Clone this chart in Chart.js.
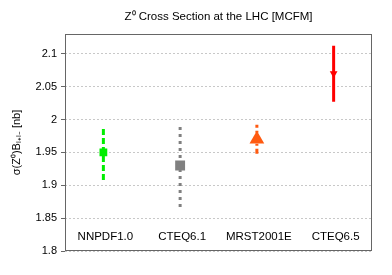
<!DOCTYPE html>
<html>
<head>
<meta charset="utf-8">
<script src="https://cdn.jsdelivr.net/npm/chart.js@4"></script>
<style>
    html, body { margin: 0; padding: 0; background: #fff; }
    #wrap { width: 392px; height: 275px; }
</style>
</head>
<body>
<div id="wrap"><canvas id="zChart"></canvas></div>
<script>
// values
const categories = ['NNPDF1.0', 'CTEQ6.1', 'MRST2001E', 'CTEQ6.5'];
const central = [1.95, 1.93, 1.97, 2.07];
const errLow = [1.908, 1.867, 1.948, 2.027];
const errHigh = [1.99, 1.99, 1.992, 2.112];
const yTicks = [1.8, 1.85, 1.9, 1.95, 2, 2.05, 2.1];

const colors = ['#00ee00', '#808080', '#ff5a10', '#ff0000'];
const dashes = [[6, 3], [3, 4], [5, 3, 2, 3], []];
const FONT = 'Liberation Sans, Arial, sans-serif';

// one two-point line per error bar
const errorSets = categories.map(function (c, i) {
    return {
        type: 'line',
        data: [{x: c, y: errLow[i]}, {x: c, y: errHigh[i]}],
        borderColor: colors[i],
        borderWidth: 3,
        borderDash: dashes[i],
        borderCapStyle: 'butt',
        pointRadius: 0,
        fill: false
    };
});

const markerSet = {
    type: 'line',
    showLine: false,
    data: categories.map(function (c, i) { return {x: c, y: central[i]}; }),
    pointStyle: ['rect', 'rect', 'triangle', 'triangle'],
    pointRadius: [5.5, 7, 8.5, 4.5],
    pointRotation: [0, 0, 0, 180],
    pointBackgroundColor: colors,
    pointBorderColor: colors,
    pointBorderWidth: 0
};

const decorations = {
    id: 'decorations',
    afterDraw(chart) {
        const ctx = chart.ctx;
        const area = chart.chartArea;
        const xs = chart.scales.x;
        ctx.save();
        // plot frame
        ctx.strokeStyle = '#666';
        ctx.lineWidth = 1;
        ctx.strokeRect(area.left + 0.5, area.top + 0.5, area.right - area.left - 1, area.bottom - area.top - 1);
        // title
        ctx.fillStyle = '#000';
        ctx.font = '11.5px ' + FONT;
        ctx.textAlign = 'center';
        ctx.textBaseline = 'middle';
        ctx.fillText('Z\u2070 Cross Section at the LHC [MCFM]', (area.left + area.right) / 2, 17);
        // category names sit inside the frame
        categories.forEach(function (c, i) {
            ctx.fillText(c, xs.getPixelForValue(i) + 2, area.bottom - 14);
        });
        ctx.restore();
    }
};

new Chart(document.getElementById('zChart').getContext('2d'), {
    data: {
        labels: categories,
        datasets: [markerSet].concat(errorSets)
    },
    options: {
        responsive: true,
        maintainAspectRatio: false,
        animation: false,
        layout: {
            padding: {top: 34, right: 20, bottom: 24, left: 0}
        },
        plugins: {
            legend: {display: false},
            tooltip: {enabled: false}
        },
        scales: {
            x: {
                type: 'category',
                offset: true,
                display: false
            },
            y: {
                min: 1.8,
                max: 2.13,
                afterFit: function (scale) { scale.width = 65; },
                afterBuildTicks: function (scale) {
                    scale.ticks = yTicks.map(function (v) { return {value: v}; });
                },
                ticks: {
                    color: '#000',
                    font: {family: FONT, size: 11},
                    padding: 4,
                    callback: function (v) { return String(Math.round(v * 100) / 100); }
                },
                grid: {
                    color: '#c8c8c8',
                    tickColor: '#666',
                    tickLength: 4
                },
                border: {display: false, dash: [2, 2]},
                title: {
                    display: true,
                    text: '\u03c3(Z\u2070)B\u2097\u208a\u2097\u208b [nb]',
                    color: '#000',
                    font: {family: FONT, size: 11},
                    padding: {top: 10, bottom: 0}
                }
            }
        }
    },
    plugins: [decorations]
});
</script>
</body>
</html>
